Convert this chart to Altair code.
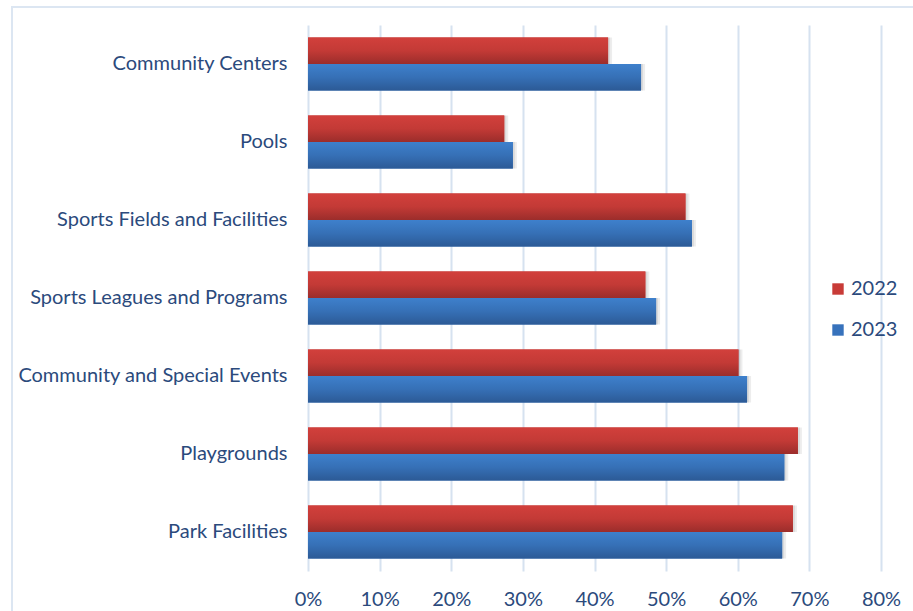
import altair as alt
import pandas as pd

categories = ["Community Centers", "Pools", "Sports Fields and Facilities",
              "Sports Leagues and Programs", "Community and Special Events",
              "Playgrounds", "Park Facilities"]
v2022 = [0.419, 0.274, 0.527, 0.471, 0.601, 0.684, 0.677]
v2023 = [0.465, 0.286, 0.536, 0.486, 0.613, 0.665, 0.662]
years = ["2022", "2023"]

rows = []
for c, a, b in zip(categories, v2022, v2023):
    rows.append({"cat": c, "year": "2022", "val": a})
    rows.append({"cat": c, "year": "2023", "val": b})
df = pd.DataFrame(rows)

FONT = "Lato"
TXT = "#2B4A7C"
FS = 20

red_grad = {"gradient": "linear", "x1": 0, "y1": 0, "x2": 0, "y2": 1,
            "stops": [{"offset": 0, "color": "#D2403C"}, {"offset": 0.5, "color": "#C33A36"},
                      {"offset": 1, "color": "#9B2D2B"}]}
blue_grad = {"gradient": "linear", "x1": 0, "y1": 0, "x2": 0, "y2": 1,
             "stops": [{"offset": 0, "color": "#3E80CC"}, {"offset": 0.5, "color": "#3670B6"},
                       {"offset": 1, "color": "#2C5A96"}]}

y_enc = alt.Y("cat:N", sort=categories, title=None,
              scale=alt.Scale(paddingInner=0.32, paddingOuter=0.16),
              axis=alt.Axis(domain=False, ticks=False, labelFont=FONT, labelFontSize=FS,
                            labelColor=TXT, labelPadding=21, labelLimit=400))
x_enc = alt.X("val:Q", title=None,
              scale=alt.Scale(domain=[0, 0.8], nice=False),
              axis=alt.Axis(format=".0%", values=[i / 10 for i in range(9)], domain=False,
                            ticks=False, grid=True, gridColor="#D6E2F0", gridWidth=2,
                            labelFont=FONT, labelFontSize=FS, labelColor=TXT,
                            labelAlign="center", labelFlush=False, labelPadding=18))
yoff = alt.YOffset("year:N", scale=alt.Scale(domain=years, paddingInner=0, paddingOuter=0))

base = alt.Chart(df)

frame = alt.Chart(pd.DataFrame({"a": [0]})).mark_rect(
    fill=None, stroke="#DCE6F2", strokeWidth=2
).encode(x=alt.value(-296), x2=alt.value(640), y=alt.value(-18), y2=alt.value(620))

shadow1 = base.mark_bar(color="black", opacity=0.07, xOffset=4, yOffset=4).encode(
    x=x_enc, y=y_enc, yOffset=yoff)
shadow2 = base.mark_bar(color="black", opacity=0.08, xOffset=2, yOffset=2).encode(
    x=x_enc, y=y_enc, yOffset=yoff)

legend_bars = base.mark_bar().encode(
    x=x_enc, y=y_enc, yOffset=yoff,
    color=alt.Color("year:N", scale=alt.Scale(domain=years, range=["#C83B37", "#3772BC"]),
                    legend=alt.Legend(title=None, orient="none", legendX=520, legendY=254,
                                      symbolType="square", symbolSize=130, symbolStrokeWidth=0,
                                      labelFont=FONT, labelFontSize=FS, labelColor=TXT,
                                      rowPadding=21, labelOffset=3)))

red_bars = base.transform_filter(alt.datum.year == "2022").mark_bar(color=red_grad).encode(
    x=x_enc, y=y_enc, yOffset=yoff)
blue_bars = base.transform_filter(alt.datum.year == "2023").mark_bar(color=blue_grad).encode(
    x=x_enc, y=y_enc, yOffset=yoff)

chart = alt.layer(frame, shadow1, shadow2, legend_bars, red_bars, blue_bars).properties(
    width=573, height=546,
    autosize=alt.AutoSizeParams(type="none"),
    padding={"left": 308, "top": 25, "right": 32, "bottom": 40},
    background="white"
).configure_view(stroke=None)

chart.save("out.html", embed_options={"renderer": "svg", "actions": False})
